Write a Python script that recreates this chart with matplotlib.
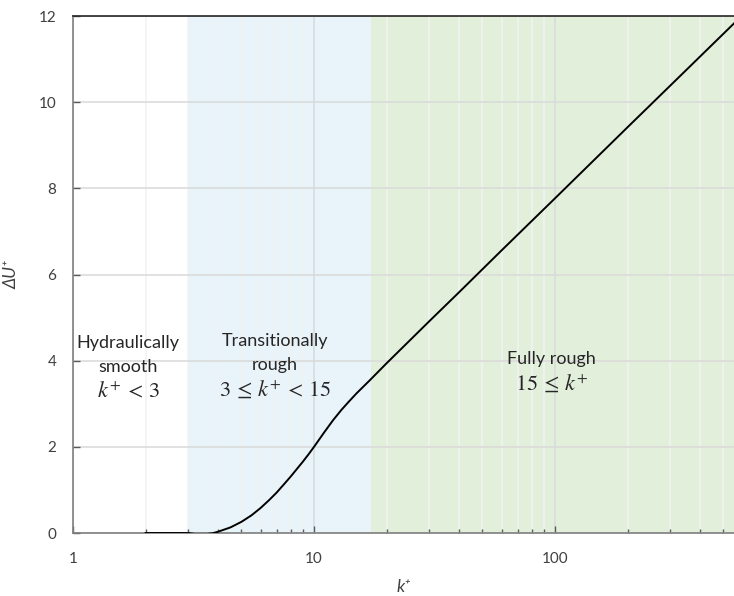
import numpy as np
import matplotlib.pyplot as plt
from matplotlib.ticker import FixedLocator, LogLocator, NullFormatter

plt.rcParams['mathtext.fontset'] = 'stix'

# roughness function
k_plus = [2, 3, 3.2, 3.6, 3.8, 4, 4.5, 5, 5.5, 6, 6.5, 7, 7.5, 8, 8.5, 9, 9.5,
          10, 11, 12, 13, 14, 15, 17, 20, 30, 40, 60, 100, 200, 300, 553]
du_plus = [0, 0, -0.02, -0.02, -0.005, 0.03, 0.13, 0.26, 0.41, 0.58, 0.76,
           0.94, 1.13, 1.31, 1.49, 1.66, 1.83, 2.0, 2.33, 2.62, 2.86, 3.06, 3.24,
           3.54, 3.94, 4.91, 5.59, 6.56, 7.77, 9.42, 10.38, 11.83]

# regime limits in k+
smooth_end = 3
rough_start = 17.2
x_max = 553

y_ticks = [0, 2, 4, 6, 8, 10, 12]
x_ticks = [1, 10, 100]
x_ticklabels = ['1', '10', '100']

fig = plt.figure(figsize=(7.34, 5.96), dpi=100)
ax = fig.add_axes([0.0995, 0.1057, 0.9005, 0.8673])

ax.axvspan(smooth_end, rough_start, color='#e9f3fa', lw=0, zorder=0.2)
ax.axvspan(rough_start, x_max, color='#e2efda', lw=0, zorder=0.2)

ax.plot(k_plus, du_plus, color='black', lw=1.4, zorder=3)

ax.set_xscale('log')
ax.set_xlim(1, x_max)
ax.set_ylim(0, 12)

ax.xaxis.set_major_locator(FixedLocator(x_ticks))
ax.set_xticklabels(x_ticklabels)
ax.xaxis.set_minor_locator(LogLocator(base=10, subs=np.arange(2, 10)))
ax.xaxis.set_minor_formatter(NullFormatter())
ax.set_yticks(y_ticks)

ax.grid(True, which='major', axis='both', color='#d9d9d9', lw=1.1, zorder=1)
ax.grid(True, which='minor', axis='x', color='#f2f2f2', lw=1.1, zorder=1)

ax.tick_params(which='both', direction='in', colors='#595959', labelsize=11,
               labelcolor='#404040')
ax.tick_params(which='major', length=5, width=1)
ax.tick_params(which='minor', length=3, width=1)
ax.tick_params(axis='x', pad=14)
ax.tick_params(axis='y', pad=12)

for s in ['left', 'bottom']:
    ax.spines[s].set_color('#7f7f7f')
    ax.spines[s].set_linewidth(1.2)
ax.spines['top'].set_color('#262626')
ax.spines['top'].set_linewidth(1.2)
ax.spines['right'].set_visible(False)

for lbl in ax.get_xticklabels() + ax.get_yticklabels():
    lbl.set_fontfamily(['Lato', 'DejaVu Sans'])

lab_font = dict(family=['Lato', 'DejaVu Sans'], style='italic', size=12.5,
                color='#404040')
ax.set_xlabel('k⁺', labelpad=9, **lab_font)
ax.set_ylabel('ΔU⁺', labelpad=14, **lab_font)

txt = dict(ha='center', va='center', color='#262626', size=13,
           family=['Lato', 'DejaVu Sans'])
math = dict(ha='center', va='center', color='#262626', size=16)

ax.text(1.69, 4.4, 'Hydraulically', **txt)
ax.text(1.69, 3.85, 'smooth', **txt)
ax.text(1.69, 3.3, r'$k^{+}\, <\, 3$', **math)

ax.text(6.9, 4.45, 'Transitionally', **txt)
ax.text(6.9, 3.9, 'rough', **txt)
ax.text(6.9, 3.35, r'$3\, \leq\, k^{+}\, <\, 15$', **math)

ax.text(97, 4.05, 'Fully rough', **txt)
ax.text(97, 3.48, r'$15\, \leq\, k^{+}$', **math)

fig.savefig('out.png', dpi=100)
